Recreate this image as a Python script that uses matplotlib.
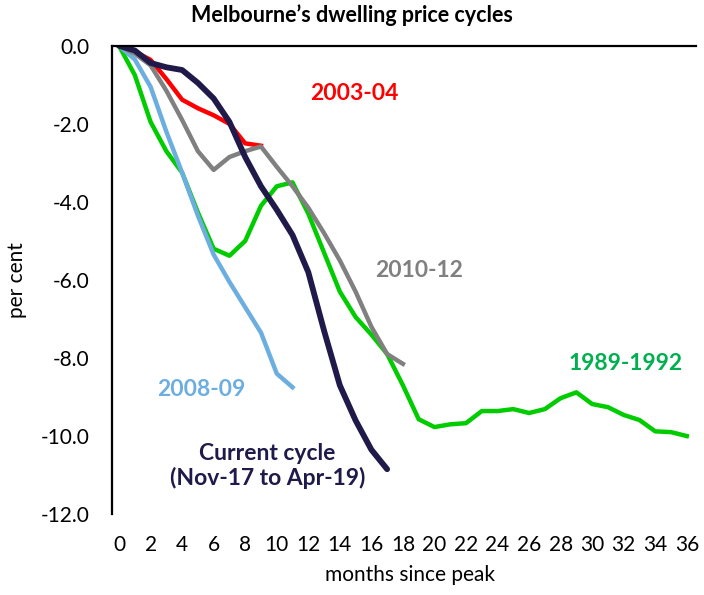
import matplotlib
matplotlib.use("Agg")
import matplotlib.pyplot as plt

plt.rcParams['font.family'] = ['Lato', 'DejaVu Sans']

# months since peak and % change from peak
months_current = list(range(18))
current = [0, -0.12, -0.44, -0.55, -0.62, -0.95, -1.35, -1.95, -2.85, -3.6,
           -4.2, -4.85, -5.8, -7.3, -8.7, -9.6, -10.35, -10.85]

months_0304 = list(range(10))
c2003 = [0, -0.15, -0.36, -0.85, -1.38, -1.6, -1.78, -2.0, -2.5, -2.56]

months_1012 = list(range(19))
c2010 = [0, -0.2, -0.5, -1.15, -1.9, -2.7, -3.18, -2.85, -2.7, -2.58,
         -3.1, -3.6, -4.15, -4.8, -5.5, -6.3, -7.2, -7.9, -8.15]

months_0809 = list(range(12))
c2008 = [0, -0.35, -1.05, -2.2, -3.25, -4.35, -5.35, -6.05, -6.7, -7.35,
         -8.4, -8.75]

months_8992 = list(range(37))
c1989 = [0, -0.75, -1.95, -2.7, -3.25, -4.27, -5.2, -5.38, -5.0, -4.1,
         -3.6, -3.5, -4.3, -5.3, -6.3, -6.95, -7.4, -7.9, -8.7, -9.57,
         -9.77, -9.7, -9.67, -9.36, -9.36, -9.31, -9.41, -9.31, -9.03, -8.88,
         -9.18, -9.26, -9.46, -9.59, -9.88, -9.9, -10.0]

xticks = list(range(0, 37, 2))
yticks = [0, -2, -4, -6, -8, -10, -12]

fig = plt.figure(figsize=(7.04, 5.95), dpi=100)
ax = fig.add_axes([0.159, 0.136, 0.83, 0.787])

ax.plot(months_0304, c2003, color='#FF0000', lw=3.2, solid_joinstyle='round')
ax.plot(months_8992, c1989, color='#00CC00', lw=3.2, solid_joinstyle='round')
ax.plot(months_0809, c2008, color='#6CAEE0', lw=3.2, solid_joinstyle='round')
ax.plot(months_1012, c2010, color='#808080', lw=3.2, solid_joinstyle='round')
ax.plot(months_current, current, color='#1F1A4A', lw=4.2,
        solid_joinstyle='round', solid_capstyle='round')

ax.set_xlim(-0.45, 36.6)
ax.set_ylim(-12, 0)
ax.set_xticks(xticks)
ax.set_xticklabels([str(t) for t in xticks])
ax.set_yticks(yticks)
ax.set_yticklabels([f"{t:.1f}" for t in yticks])
ax.tick_params(axis='both', length=0, labelsize=15)
ax.tick_params(axis='x', pad=15)
ax.tick_params(axis='y', pad=16)

ax.spines['bottom'].set_visible(False)
ax.spines['right'].set_visible(False)
ax.spines['top'].set_linewidth(1.6)
ax.spines['left'].set_linewidth(1.6)

fig.text(17 / 704, 1 - 280 / 595, 'per cent', rotation=90, ha='center',
         va='center', fontsize=15)
fig.text(410 / 704, 1 - 575 / 595, 'months since peak', ha='center',
         va='center', fontsize=15)
fig.text(0.5, 1 - 15 / 595, 'Melbourne\u2019s dwelling price cycles',
         ha='center', va='center', fontsize=15.5, fontweight='bold')

lab = dict(fontsize=16.5, fontweight='bold', ha='center', va='center')
ax.text(14.9, -1.23, '2003-04', color='#FF0000', **lab)
ax.text(19.0, -5.75, '2010-12', color='#808080', **lab)
ax.text(5.2, -8.8, '2008-09', color='#6CAEE0', **lab)
ax.text(9.4, -10.77, 'Current cycle\n(Nov-17 to Apr-19)', color='#1F1A4A',
        linespacing=1.2, **lab)
ax.text(32.1, -8.13, '1989-1992', color='#00B050', **lab)

fig.savefig('out.png', dpi=100)
